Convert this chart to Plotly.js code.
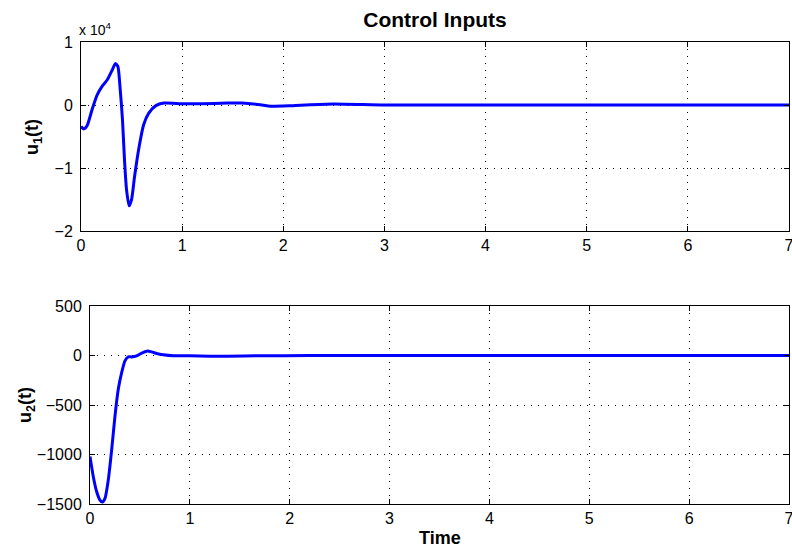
<!DOCTYPE html>
<html><head><meta charset="utf-8">
<script src="https://cdn.plot.ly/plotly-3.0.1.min.js"></script>
<style>html,body{margin:0;padding:0;background:#fff}</style>
</head><body><div id="chart" style="width:792px;height:553px"></div>
<script>
// Top panel: u1(t), values in units of 1e4
const t1 = [0, 0.027, 0.06, 0.11, 0.16, 0.21, 0.26, 0.31, 0.34, 0.365, 0.385, 0.41, 0.43, 0.45, 0.475, 0.50, 0.53, 0.575, 0.62, 0.67, 0.74, 0.82, 1.0, 1.19, 1.45, 1.59, 1.79, 1.87, 2.1, 2.49, 3.0, 3.8, 4.5, 5.5, 6.5, 7.0];
const u1_x1e4 = [-0.34, -0.38, -0.33, -0.07, 0.16, 0.30, 0.40, 0.56, 0.66, 0.61, 0.30, -0.23, -0.87, -1.34, -1.60, -1.50, -1.13, -0.66, -0.31, -0.13, -0.01, 0.03, 0.02, 0.02, 0.03, 0.03, 0.0, -0.02, -0.01, 0.015, 0.0, 0.0, 0.0, 0.0, 0.0, 0.0];
// Bottom panel: u2(t)
const t2 = [0, 0.033, 0.067, 0.1, 0.123, 0.15, 0.183, 0.217, 0.25, 0.283, 0.317, 0.35, 0.383, 0.417, 0.467, 0.517, 0.567, 0.617, 0.667, 0.733, 0.833, 1.0, 1.2, 1.367, 1.7, 2.2, 3.0, 4.0, 5.0, 6.0, 7.0];
const u2 = [-1020, -1224, -1376, -1461, -1481, -1444, -1258, -953, -614, -342, -173, -54, -14, -14, -3, 24, 44, 37, 20, 7, -3, -3, -7, -7, -3, -1, 0, 0, 0, 0, 0];
const xTicks = [0, 1, 2, 3, 4, 5, 6, 7];
const y1Ticks = [-2, -1, 0, 1];
const y1TickText = ["\u22122", "\u22121", "0", "1"];
const y2Ticks = [-1500, -1000, -500, 0, 500];
const y2TickText = ["\u22121500", "\u22121000", "\u2212500", "0", "500"];

const W = 792, H = 553;
const FAM = "Liberation Sans";
function axBase(standoff) {
  return {
    showline: true, linecolor: "#000", linewidth: 1, mirror: "ticks",
    ticks: "inside", ticklen: 5, tickcolor: "#000",
    showgrid: true, gridcolor: "#000", gridwidth: 1, griddash: "1px,6px",
    zeroline: false, tickfont: {family: FAM, size: 16, color: "#000"},
    fixedrange: true, ticklabeloverflow: "allow", ticklabelstandoff: standoff
  };
}
const data = [
  {x: t1, y: u1_x1e4, type: "scatter", mode: "lines", line: {color: "#0000ff", width: 3, shape: "spline", smoothing: 0.6}, xaxis: "x", yaxis: "y", hoverinfo: "skip"},
  {x: t2, y: u2, type: "scatter", mode: "lines", line: {color: "#0000ff", width: 3, shape: "spline", smoothing: 0.6}, xaxis: "x2", yaxis: "y2", hoverinfo: "skip"}
];
const layout = {
  width: W, height: H, margin: {l: 0, r: 0, t: 0, b: 0},
  paper_bgcolor: "#fff", plot_bgcolor: "#fff", showlegend: false,
  font: {family: FAM, size: 16, color: "#000"},
  title: {text: "<b>Control Inputs</b>", font: {family: FAM, size: 21, color: "#000"}, x: 435 / W, xanchor: "center", y: 1 - 20 / H, yanchor: "middle"},
  xaxis: Object.assign(axBase(0), {domain: [81 / W, 789 / W], range: [0, 7], tickvals: xTicks, anchor: "y"}),
  yaxis: Object.assign(axBase(4), {domain: [1 - 231 / H, 1 - 42 / H], range: [-2, 1], tickvals: y1Ticks, ticktext: y1TickText, anchor: "x"}),
  xaxis2: Object.assign(axBase(0), {domain: [90 / W, 789 / W], range: [0, 7], tickvals: xTicks, anchor: "y2"}),
  yaxis2: Object.assign(axBase(4), {domain: [1 - 504 / H, 1 - 306 / H], range: [-1500, 500], tickvals: y2Ticks, ticktext: y2TickText, anchor: "x2"}),
  annotations: [
    {text: "x 10<sup>4</sup>", xref: "paper", yref: "paper", x: 77 / W, y: 1 - 29 / H, xanchor: "left", yanchor: "middle", showarrow: false, font: {family: FAM, size: 14, color: "#000"}},
    {text: "<b>u<sub>1</sub>(t)</b>", xref: "paper", yref: "paper", x: 33 / W, y: 1 - 137 / H, xanchor: "center", yanchor: "middle", textangle: -90, showarrow: false, font: {family: FAM, size: 18, color: "#000"}},
    {text: "<b>u<sub>2</sub>(t)</b>", xref: "paper", yref: "paper", x: 26 / W, y: 1 - 405 / H, xanchor: "center", yanchor: "middle", textangle: -90, showarrow: false, font: {family: FAM, size: 18, color: "#000"}},
    {text: "<b>Time</b>", xref: "paper", yref: "paper", x: 440 / W, y: 1 - 538 / H, xanchor: "center", yanchor: "middle", showarrow: false, font: {family: FAM, size: 18, color: "#000"}}
  ]
};
Plotly.newPlot("chart", data, layout, {displayModeBar: false, staticPlot: true});
</script></body></html>
